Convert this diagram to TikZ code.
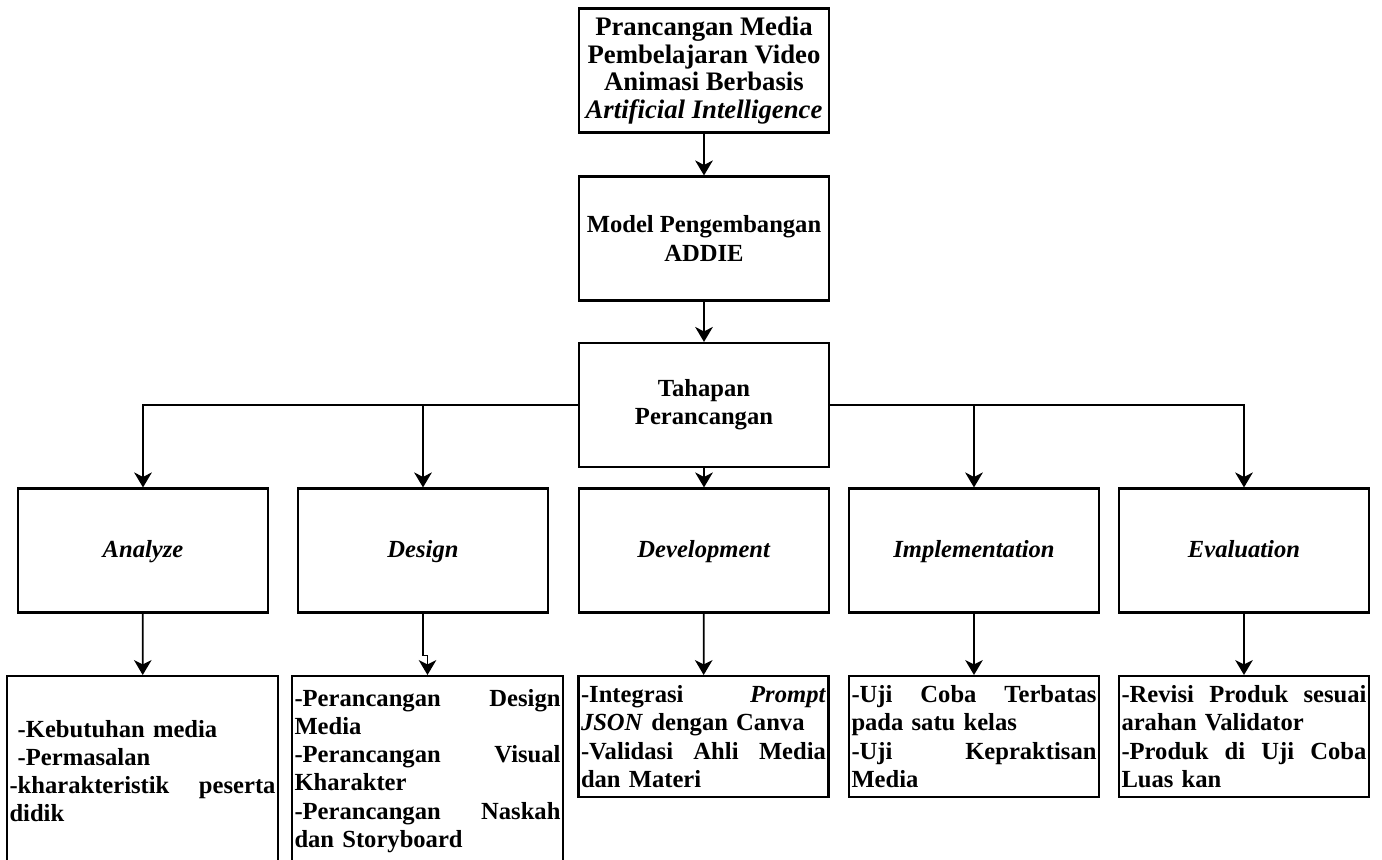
\documentclass[tikz,border=0pt]{standalone}
\usepackage{fontspec}
\setmainfont{Liberation Serif}
\usetikzlibrary{arrows.meta}
\begin{document}
\begin{tikzpicture}[font=\fontsize{14}{16}\selectfont\bfseries,
  every node/.style={draw,line width=1.2pt,inner sep=0.05cm},
  box/.style={minimum width=5cm,minimum height=2.48cm,align=center},
  tahap/.style={box,text height=2.2ex,text depth=.35ex},
  listbox/.style={anchor=north,align=left,text width=#1},
  arr/.style={line width=1pt,-{Stealth[length=8.5pt,width=10pt,inset=2.5pt]}}]
\clip (0,0) rectangle (27.64,-17.2);
\node[box,font=\fontsize{15.2}{15.8}\selectfont\bfseries] (judul) at (14.08,-1.41) {Prancangan Media\\Pembelajaran Video\\Animasi Berbasis\\\textit{Artificial Intelligence}};
\node[box] (addie) at (14.08,-4.77) {Model Pengembangan\\ADDIE};
\node[box] (tahap) at (14.08,-8.1) {Tahapan\\Perancangan};

\node[tahap] (an) at (2.86,-11.01) {\textit{Analyze}};
\node[tahap] (de) at (8.46,-11.01) {\textit{Design}};
\node[tahap] (dv) at (14.08,-11.01) {\textit{Development}};
\node[tahap] (im) at (19.48,-11.01) {\textit{Implementation}};
\node[tahap] (ev) at (24.88,-11.01) {\textit{Evaluation}};

% rincian tiap tahap
\node[listbox=5.32cm,minimum height=3.8cm] (an2) at (2.85,-13.5) {\ -Kebutuhan media\\\ -Permasalan\\-kharakteristik\hfill peserta\\didik};
\node[listbox=5.32cm,minimum height=3.8cm] (de2) at (8.55,-13.5) {-Perancangan\hfill Design\\Media\\-Perancangan\hfill Visual\\Kharakter\\-Perancangan\hfill Naskah\\dan Storyboard};
\node[listbox=4.9cm,minimum height=2.42cm] (dv2) at (14.07,-13.5) {-Integrasi\hfill \textit{Prompt}\\\textit{JSON} dengan Canva\\-Validasi\hfill Ahli\hfill Media\\dan Materi};
\node[listbox=4.9cm,minimum height=2.42cm] (im2) at (19.48,-13.5) {-Uji\hfill Coba\hfill Terbatas\\pada satu kelas\\-Uji\hfill Kepraktisan\\Media};
\node[listbox=4.9cm,minimum height=2.42cm] (ev2) at (24.88,-13.5) {-Revisi\hfill Produk\hfill sesuai\\arahan Validator\\-Produk\hfill di\hfill Uji\hfill Coba\\Luas kan};

\draw[arr] (judul) -- (addie);
\draw[arr] (addie) -- (tahap);
\draw[arr] (tahap.west) -| (an.north);
\draw[arr] (tahap.west) -| (de.north);
\draw[arr] (tahap) -- (dv);
\draw[arr] (tahap.east) -| (im.north);
\draw[arr] (tahap.east) -| (ev.north);

\draw[arr] (an) -- (an2);
\draw[arr] (de.south) -- ++(0,-0.84) -| (de2.north);
\draw[arr] (dv) -- (dv2);
\draw[arr] (im) -- (im2);
\draw[arr] (ev) -- (ev2);
\end{tikzpicture}
\end{document}
